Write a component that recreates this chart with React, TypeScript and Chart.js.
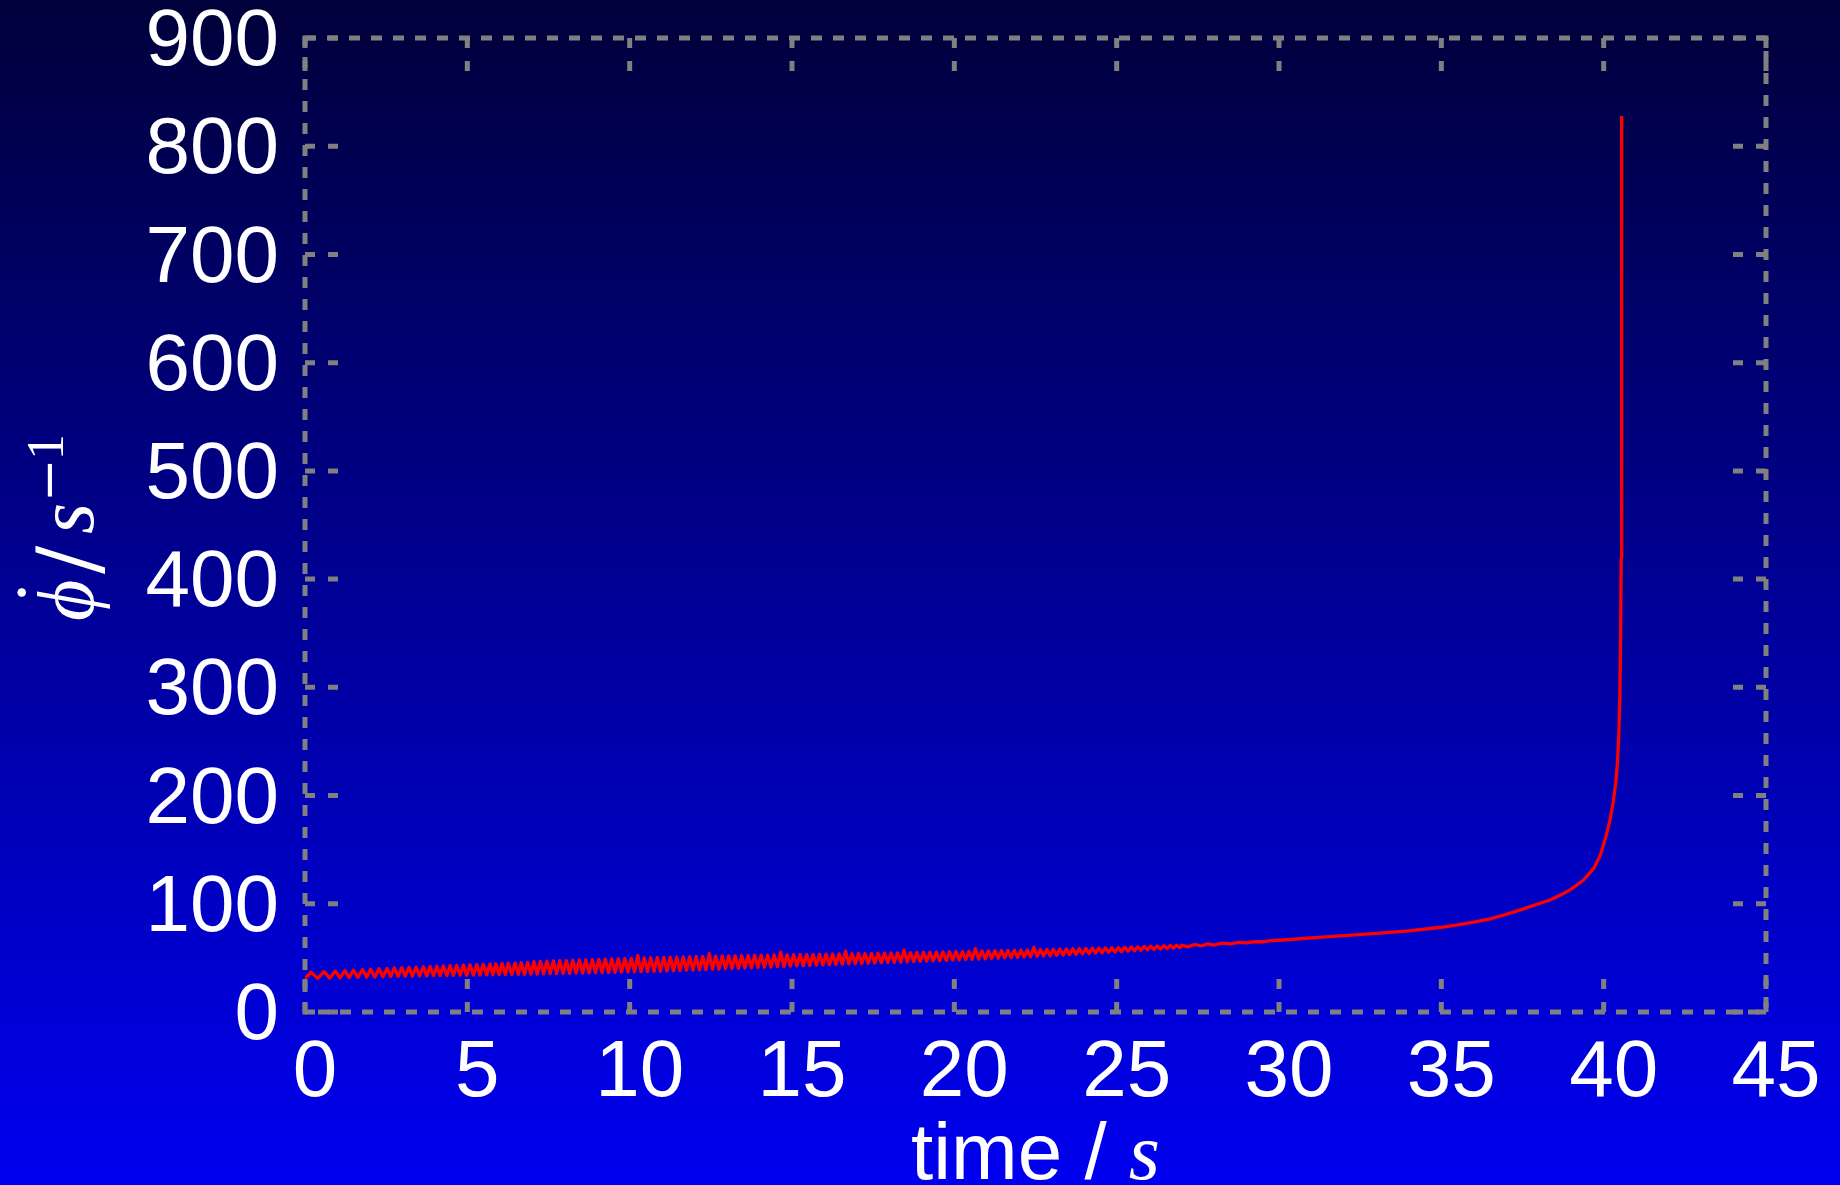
import React, { useEffect, useRef } from "react";
import { Chart, registerables } from "chart.js";

Chart.register(...registerables);

// ---- data ----
// early, clearly resolved oscillation (alternating trough / peak)
const earlyTimes = [0.0, 0.19, 0.39, 0.59, 0.76, 0.93, 1.08, 1.23, 1.36, 1.49, 1.63, 1.77, 1.9, 2.02, 2.15, 2.28, 2.4, 2.53, 2.64, 2.75, 2.87, 2.98, 3.09, 3.2, 3.31, 3.42, 3.53, 3.65, 3.75, 3.85, 3.96, 4.06, 4.16, 4.26, 4.37, 4.47, 4.57, 4.67, 4.78, 4.88, 4.98, 5.08, 5.19, 5.29, 5.39, 5.49, 5.6, 5.7, 5.79, 5.88, 5.98, 6.07, 6.17, 6.26, 6.37, 6.47, 6.57, 6.66, 6.76, 6.86, 6.96];
const earlyValues = [31.0, 36.7, 31.1, 37.3, 31.3, 37.8, 31.6, 38.3, 31.8, 38.7, 32.0, 39.1, 32.2, 39.5, 32.4, 39.9, 32.6, 40.3, 32.8, 40.6, 33.0, 41.0, 33.1, 41.3, 33.2, 41.5, 33.3, 41.8, 33.4, 42.1, 33.5, 42.3, 33.6, 42.6, 33.7, 42.8, 33.8, 43.1, 33.9, 43.4, 34.0, 43.6, 34.1, 43.9, 34.2, 44.1, 34.3, 44.4, 34.4, 44.6, 34.5, 44.9, 34.6, 45.1, 34.7, 45.4, 34.8, 45.6, 34.9, 45.9, 35.0];

// dense oscillation band: one row per second, samples at the offsets below
const bandSeconds = [7, 8, 9, 10, 11, 12, 13, 14, 15, 16, 17, 18, 19, 20, 21, 22, 23, 24, 25, 26];
const bandOffsets = [0.05, 0.15, 0.25, 0.35, 0.45, 0.55, 0.65, 0.75, 0.85, 0.95];
const bandValues = [
  [46.6, 35.1, 46.8, 35.2, 47.0, 35.4, 47.2, 35.5, 47.4, 35.6],
  [47.6, 35.7, 47.8, 35.9, 48.0, 36.0, 48.2, 36.1, 48.4, 36.3],
  [48.6, 36.4, 48.8, 36.5, 49.0, 36.7, 49.2, 36.8, 49.4, 37.0],
  [49.6, 37.1, 52.3, 37.3, 50.0, 37.4, 50.1, 37.6, 50.3, 37.7],
  [50.5, 37.9, 50.6, 38.1, 50.8, 38.3, 50.9, 38.6, 51.1, 38.8],
  [51.2, 39.0, 51.3, 39.2, 53.9, 39.5, 51.6, 39.7, 51.8, 40.0],
  [51.9, 40.2, 52.0, 40.4, 52.2, 40.7, 52.3, 40.9, 52.4, 41.2],
  [52.5, 41.4, 52.6, 41.6, 52.7, 41.9, 55.3, 42.1, 52.9, 42.4],
  [53.0, 42.6, 53.1, 42.8, 53.2, 43.0, 53.3, 43.3, 53.4, 43.5],
  [53.5, 43.7, 53.6, 43.9, 53.7, 44.1, 56.2, 44.4, 53.9, 44.6],
  [54.0, 44.8, 54.1, 45.0, 54.2, 45.2, 54.3, 45.5, 54.4, 45.7],
  [54.5, 45.9, 54.6, 46.1, 57.2, 46.3, 54.9, 46.6, 55.0, 46.8],
  [55.1, 47.0, 55.2, 47.2, 55.4, 47.5, 55.5, 47.7, 55.7, 48.0],
  [55.8, 48.2, 55.9, 48.4, 56.1, 48.7, 58.6, 48.9, 56.4, 49.2],
  [56.5, 49.5, 56.6, 49.7, 56.8, 50.0, 56.9, 50.2, 57.1, 50.5],
  [57.2, 50.8, 57.3, 51.1, 59.8, 51.4, 57.7, 51.7, 57.8, 52.0],
  [58.0, 52.3, 58.1, 52.6, 58.3, 53.0, 58.5, 53.3, 58.6, 53.7],
  [58.8, 54.0, 59.0, 54.4, 59.1, 54.7, 59.3, 55.1, 59.4, 55.4],
  [59.6, 55.8, 59.8, 56.2, 60.1, 56.6, 60.3, 57.0, 60.6, 57.4],
  [60.8, 57.8, 61.0, 58.2, 61.2, 58.6, 61.5, 59.0, 61.7, 59.4],
];

// fading wobble and the final blow-up
const lateTimes = [27.0, 27.2, 27.4, 27.6, 27.8, 28.0, 28.25, 28.5, 28.75, 29.0, 29.25, 29.5, 29.75, 30.0, 31.0, 32.0, 33.0, 34.0, 35.0, 35.5, 36.0, 36.5, 36.8, 37.2, 37.6, 38.0, 38.35, 38.7, 39.0, 39.38, 39.7, 39.9, 40.05, 40.2, 40.3, 40.38, 40.43, 40.47, 40.5, 40.52, 40.54, 40.55, 40.56];
const lateValues = [61.8, 60.2, 62.4, 61.0, 63.0, 61.9, 63.6, 62.9, 64.4, 63.9, 65.1, 64.9, 65.9, 66.3, 68.4, 70.5, 72.6, 75.0, 78.3, 80.5, 83.0, 86.0, 88.5, 92.0, 96.0, 100.0, 103.5, 108.5, 113.5, 122, 133, 145, 160, 178, 195, 214, 233, 259, 295, 340, 420, 550, 828];

const xMin = 0;
const xMax = 45;
const xStep = 5;
const yMin = 0;
const yMax = 900;
const yStep = 100;

const SANS = "'Liberation Sans', Arial, Helvetica, sans-serif";
const SERIF = "'Liberation Serif', 'DejaVu Serif', serif";

function buildPoints() {
  const pts: { x: number; y: number }[] = [];
  earlyTimes.forEach((t, i) => pts.push({ x: t, y: earlyValues[i] }));
  bandSeconds.forEach((s, r) =>
    bandOffsets.forEach((o, c) => pts.push({ x: Math.round((s + o) * 100) / 100, y: bandValues[r][c] }))
  );
  lateTimes.forEach((t, i) => pts.push({ x: t, y: lateValues[i] }));
  return pts;
}

const bgPlugin = {
  id: "bgGradient",
  beforeDraw(chart: any) {
    const { ctx, width, height } = chart;
    const g = ctx.createLinearGradient(0, 0, 0, height);
    g.addColorStop(0, "rgb(0,0,58)");
    g.addColorStop(1, "rgb(0,0,240)");
    ctx.save();
    ctx.fillStyle = g;
    ctx.fillRect(0, 0, width, height);
    ctx.restore();
  },
};

const framePlugin = {
  id: "dashedFrame",
  beforeDatasetsDraw(chart: any) {
    const { ctx, chartArea } = chart;
    const { left, right, top, bottom } = chartArea;
    const xs = chart.scales.x;
    const ys = chart.scales.y;
    ctx.save();
    ctx.strokeStyle = "#808080";
    ctx.lineWidth = 5;
    ctx.lineCap = "butt";
    ctx.setLineDash([11, 11]);
    ctx.strokeRect(left, top, right - left, bottom - top);
    ctx.setLineDash([10, 13]);
    const len = 33;
    const seg = (x1: number, y1: number, x2: number, y2: number) => {
      ctx.beginPath();
      ctx.moveTo(x1, y1);
      ctx.lineTo(x2, y2);
      ctx.stroke();
    };
    xs.ticks.forEach((t: any) => {
      const px = xs.getPixelForValue(t.value);
      seg(px, bottom, px, bottom - len);
      seg(px, top, px, top + len);
    });
    ys.ticks.forEach((t: any) => {
      const py = ys.getPixelForValue(t.value);
      seg(left, py, left + len, py);
      seg(right, py, right - len, py);
    });
    ctx.restore();
  },
};

const titlePlugin = {
  id: "axisTitles",
  afterDraw(chart: any) {
    const { ctx, chartArea } = chart;
    ctx.save();
    ctx.fillStyle = "#ffffff";
    ctx.textBaseline = "alphabetic";
    ctx.textAlign = "left";

    // x title: "time / s"
    const sansFont = `80px ${SANS}`;
    const italFont = `italic 80px ${SERIF}`;
    ctx.font = sansFont;
    const w1 = ctx.measureText("time / ").width;
    ctx.font = italFont;
    const w2 = ctx.measureText("s").width;
    const cx = (chartArea.left + chartArea.right) / 2;
    const x0 = cx - (w1 + w2) / 2;
    const base = 1179;
    ctx.font = sansFont;
    ctx.fillText("time / ", x0, base);
    ctx.font = italFont;
    ctx.fillText("s", x0 + w1, base);

    // y title: rotated  phi-dot / s^-1
    const cy = (chartArea.top + chartArea.bottom) / 2;
    ctx.translate(93, cy + 95);
    ctx.rotate(-Math.PI / 2);
    ctx.font = italFont;
    ctx.fillText("\u03D5", -1, 0);
    ctx.font = `80px ${SERIF}`;
    ctx.fillText("\u02D9", 14, -22);
    ctx.font = "84px 'DejaVu Serif', serif";
    ctx.fillText("/", 46, 4);
    ctx.font = italFont;
    ctx.fillText("s", 86, 0);
    ctx.font = "52px 'DejaVu Serif', serif";
    ctx.fillText("\u2212", 118, -27);
    ctx.font = `52px ${SERIF}`;
    ctx.fillText("1", 160, -30);
    ctx.restore();
  },
};

export default function App() {
  const canvasRef = useRef<HTMLCanvasElement | null>(null);

  useEffect(() => {
    document.body.style.margin = "0";
    document.body.style.overflow = "hidden";
    const canvas = canvasRef.current;
    if (!canvas) return;
    const tickFont = { family: SANS, size: 80 };
    const chart = new Chart(canvas, {
      type: "line",
      data: {
        datasets: [
          {
            data: buildPoints(),
            borderColor: "#ff0000",
            borderWidth: 3.3,
            pointRadius: 0,
            borderJoinStyle: "round",
            tension: 0,
            fill: false,
          },
        ],
      },
      options: {
        animation: false,
        responsive: false,
        devicePixelRatio: 1,
        layout: { padding: { top: 38, right: 74, left: 0, bottom: 0 } },
        plugins: { legend: { display: false }, tooltip: { enabled: false } },
        scales: {
          x: {
            type: "linear",
            min: xMin,
            max: xMax,
            ticks: {
              stepSize: xStep,
              color: "#ffffff",
              font: tickFont,
              padding: 14,
              labelOffset: 10,
              maxRotation: 0,
              minRotation: 0,
              autoSkip: false,
            },
            grid: { display: false, drawTicks: false },
            border: { display: false },
            afterFit: (s: any) => {
              s.height = 173;
              s.paddingLeft = 0;
              s.paddingRight = 0;
            },
          },
          y: {
            type: "linear",
            min: yMin,
            max: yMax,
            ticks: {
              stepSize: yStep,
              color: "#ffffff",
              font: tickFont,
              padding: 26,
              labelOffset: 5,
              autoSkip: false,
            },
            grid: { display: false, drawTicks: false },
            border: { display: false },
            afterFit: (s: any) => {
              s.width = 305;
              s.paddingTop = 0;
              s.paddingBottom = 0;
            },
          },
        },
      } as any,
      plugins: [bgPlugin, framePlugin, titlePlugin],
    } as any);
    return () => chart.destroy();
  }, []);

  return (
    <div style={{ position: "absolute", left: 0, top: 0, width: 1840, height: 1185 }}>
      <canvas ref={canvasRef} width={1840} height={1185} style={{ display: "block" }} />
    </div>
  );
}
